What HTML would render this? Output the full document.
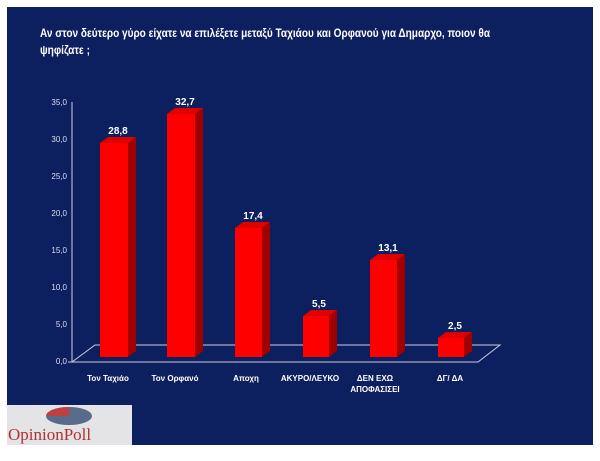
<!DOCTYPE html>
<html><head><meta charset="utf-8"><style>
body{margin:0;background:#fff;width:600px;height:456px;overflow:hidden;font-family:"Liberation Sans",sans-serif}
</style></head><body>
<svg width="600" height="456" xmlns="http://www.w3.org/2000/svg" font-family="Liberation Sans, sans-serif">
<rect x="7" y="7" width="586" height="438" fill="#0c1f5e"/>
<text x="40" y="37" fill="#fff" font-size="11.5" font-weight="bold" textLength="450" lengthAdjust="spacingAndGlyphs">Αν στον δεύτερο γύρο είχατε να επιλέξετε μεταξύ Ταχιάου και Ορφανού για Δημαρχο, ποιον θα</text>
<text x="40" y="54" fill="#fff" font-size="11.5" font-weight="bold" textLength="50" lengthAdjust="spacingAndGlyphs">ψηφίζατε ;</text>
<g fill="#dde" font-size="8" text-anchor="end">
<text x="67" y="105">35,0</text><text x="67" y="142">30,0</text><text x="67" y="179">25,0</text><text x="67" y="216">20,0</text><text x="67" y="253">15,0</text><text x="67" y="290">10,0</text><text x="67" y="327">5,0</text><text x="67" y="364">0,0</text>
</g>
<g stroke="#ccd" stroke-width="1" fill="none">
<line x1="72" y1="102" x2="72" y2="362"/>
<polyline points="72,362 478,362 500,345 95,345 72,362"/>
<line x1="68" y1="362" x2="72" y2="362"/>
</g>
<g>
<polygon points="100,143 108,137 136,137 128,143" fill="#e00000"/><polygon points="128,143 136,137 136,351 128,357" fill="#a00000"/><rect x="100" y="143" width="28" height="214" fill="#ff0000"/>
<polygon points="167,114 175,108 203,108 195,114" fill="#e00000"/><polygon points="195,114 203,108 203,351 195,357" fill="#a00000"/><rect x="167" y="114" width="28" height="243" fill="#ff0000"/>
<polygon points="235,228 243,222 270,222 262,228" fill="#e00000"/><polygon points="262,228 270,222 270,351 262,357" fill="#a00000"/><rect x="235" y="228" width="27" height="129" fill="#ff0000"/>
<polygon points="303,316 311,310 337,310 329,316" fill="#e00000"/><polygon points="329,316 337,310 337,351 329,357" fill="#a00000"/><rect x="303" y="316" width="26" height="41" fill="#ff0000"/>
<polygon points="370,260 378,254 405,254 397,260" fill="#e00000"/><polygon points="397,260 405,254 405,351 397,357" fill="#a00000"/><rect x="370" y="260" width="27" height="97" fill="#ff0000"/>
<polygon points="438,338 446,332 472,332 464,338" fill="#e00000"/><polygon points="464,338 472,332 472,351 464,357" fill="#a00000"/><rect x="438" y="338" width="26" height="19" fill="#ff0000"/>
</g>
<g fill="#fff" font-size="10" font-weight="bold" text-anchor="middle">
<text x="118" y="134">28,8</text><text x="185" y="105">32,7</text><text x="253" y="219">17,4</text><text x="319" y="307">5,5</text><text x="388" y="251">13,1</text><text x="455" y="329">2,5</text>
</g>
<g fill="#fff" font-size="8" font-weight="bold" text-anchor="middle">
<text x="108" y="381">Τον Ταχιάο</text><text x="175" y="381">Τον Ορφανό</text><text x="246" y="381">Αποχη</text><text x="310" y="381">ΑΚΥΡΟ/ΛΕΥΚΟ</text><text x="375" y="381">ΔΕΝ ΕΧΩ</text><text x="375" y="392">ΑΠΟΦΑΣΙΣΕΙ</text><text x="450" y="381">ΔΓ/ ΔΑ</text>
</g>
<rect x="7" y="405" width="125" height="40" fill="#e4e4e6"/>
<ellipse cx="69" cy="416" rx="23" ry="9" fill="#5a6a8a"/>
<path d="M46,416 A23,9 0 0 1 69,407 L69,416 Z" fill="#c04040"/>
<text x="8" y="440" fill="#b03030" font-family="Liberation Serif, serif" font-size="17">OpinionPoll</text>
</svg>
</body></html>
